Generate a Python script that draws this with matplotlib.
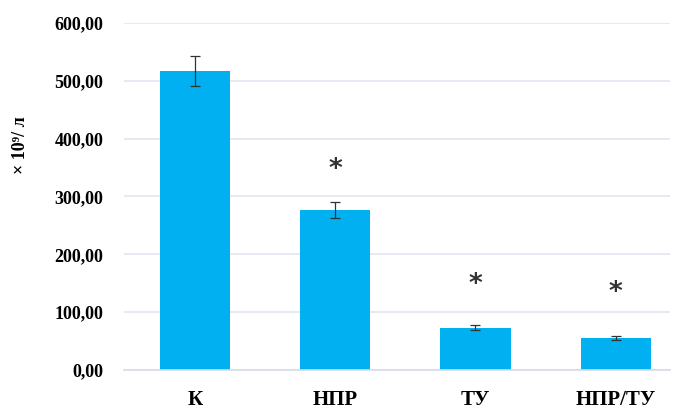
import matplotlib
matplotlib.use("Agg")
import numpy as np
import matplotlib.pyplot as plt

categories = ["К", "НПР", "ТУ", "НПР/ТУ"]
values = [517, 276, 73, 55]
errors = [26, 14, 4, 3]
stars = [None, 346, 147, 133]

plt.rcParams['font.family'] = ['Liberation Serif', 'DejaVu Serif']
plt.rcParams['font.weight'] = 'bold'

fig = plt.figure(figsize=(6.75, 4.08), dpi=100)
ax = fig.add_axes([0.184, 0.093, 0.809, 0.851])

x = np.arange(len(categories))
ax.bar(x, values, width=0.5, color="#00b0f0", zorder=2)
ax.errorbar(x, values, yerr=errors, fmt="none", ecolor="#333333",
            elinewidth=0.9, capsize=3.5, capthick=0.9, zorder=3)

for xi, s in zip(x, stars):
    if s is not None:
        ax.text(xi, s, "*", ha="center", va="center", fontsize=19,
                color="#333333", fontweight="bold", family="DejaVu Sans")

ax.set_ylim(0, 600)
ax.set_xlim(-0.507, 3.39)
ax.set_yticks(np.arange(0, 601, 100))
ax.set_yticklabels([f"{v:.2f}".replace(".", ",") for v in np.arange(0, 601, 100)],
                   fontsize=13, fontweight="bold")
ax.set_xticks(x)
ax.set_xticklabels(categories, fontsize=15, fontweight="bold")
ax.tick_params(axis="both", length=0)
ax.tick_params(axis="y", pad=15)
ax.tick_params(axis="x", pad=14)
ax.grid(axis="y", color="#dfe5f0", linewidth=1.2, zorder=0)
ax.set_axisbelow(True)
for sp in ["top", "right", "left"]:
    ax.spines[sp].set_visible(False)
ax.spines["bottom"].set_color("#d6dce8")
ax.spines["bottom"].set_linewidth(1.2)

fig.text(0.03, 0.645, "× 10⁹/ л", rotation=90, ha="center", va="center",
         fontsize=13, fontweight="bold")

fig.savefig("out.png", dpi=100)
